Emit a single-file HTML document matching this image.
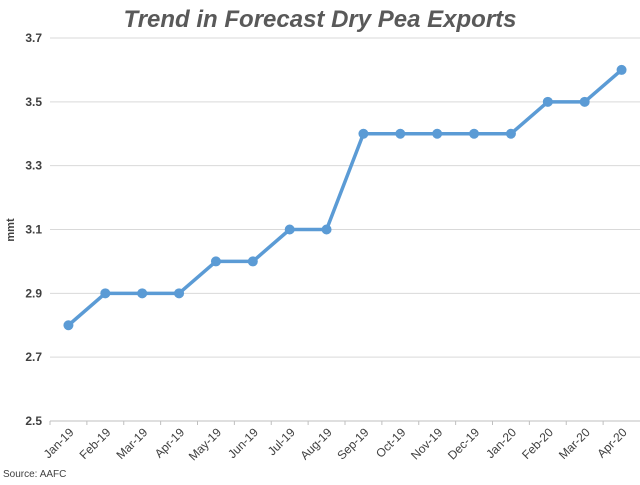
<!DOCTYPE html>
<html><head><meta charset="utf-8"><style>
body{margin:0;background:#fff;font-family:"Liberation Sans",sans-serif;}
</style></head><body>
<svg width="640" height="480" xmlns="http://www.w3.org/2000/svg">
<text x="320" y="27" text-anchor="middle" font-size="24" font-weight="bold" font-style="italic" fill="#595959">Trend in Forecast Dry Pea Exports</text>
<text transform="translate(14,230) rotate(-90)" text-anchor="middle" font-size="11" font-weight="bold" fill="#404040">mmt</text>
<text x="3" y="477" font-size="10" fill="#404040">Source: AAFC</text>
<g id="grid"></g><g id="xt"></g><g id="series"></g>
</svg>
<script>
const categories=["Jan-19","Feb-19","Mar-19","Apr-19","May-19","Jun-19","Jul-19","Aug-19","Sep-19","Oct-19","Nov-19","Dec-19","Jan-20","Feb-20","Mar-20","Apr-20"];
const values=[2.8,2.9,2.9,2.9,3.0,3.0,3.1,3.1,3.4,3.4,3.4,3.4,3.4,3.5,3.5,3.6];
const yTicks=[2.5,2.7,2.9,3.1,3.3,3.5,3.7];
const NS="http://www.w3.org/2000/svg";
const x0=50,x1=640,yMin=2.5,yMax=3.7,py0=421,py1=38;
const bw=(x1-x0)/categories.length;
const xs=i=>x0+bw*(i+0.5);
const ys=v=>py0-(v-yMin)/(yMax-yMin)*(py0-py1);
function mk(t,a,p){const e=document.createElementNS(NS,t);for(const k in a)e.setAttribute(k,a[k]);p.appendChild(e);return e;}
const g=document.getElementById('grid');
yTicks.forEach(v=>{
 const l=mk('line',{x1:x0,x2:x1,y1:ys(v),y2:ys(v),stroke:v===yMin?'#bfbfbf':'#d9d9d9','stroke-width':1},g);
 
 
 const t=mk('text',{x:42,y:ys(v)+4,'text-anchor':'end','font-size':12,'font-weight':'bold',fill:'#404040'},g);
 t.textContent=v.toFixed(1);
 
 
});
const xt=document.getElementById('xt');
categories.forEach((c,i)=>{
 const tk=mk('line',{x1:x0+bw*i,x2:x0+bw*i,y1:py0,y2:py0+4,stroke:'#bfbfbf'},xt);
 
 
 const t=mk('text',{transform:`translate(${xs(i)+6},${py0+12}) rotate(-45)`,'text-anchor':'end','font-size':12,fill:'#404040'},xt);
 t.textContent=c;
 
 
});
const s=document.getElementById('series');
const pl=mk('polyline',{points:values.map((v,i)=>xs(i)+','+ys(v)).join(' '),fill:'none',stroke:'#5b9bd5','stroke-width':3.5,'stroke-linejoin':'round'},s);


values.forEach((v,i)=>{
 const c=mk('circle',{cx:xs(i),cy:ys(v),r:5,fill:'#5b9bd5'},s);
 
 
});
</script>
</body></html>
